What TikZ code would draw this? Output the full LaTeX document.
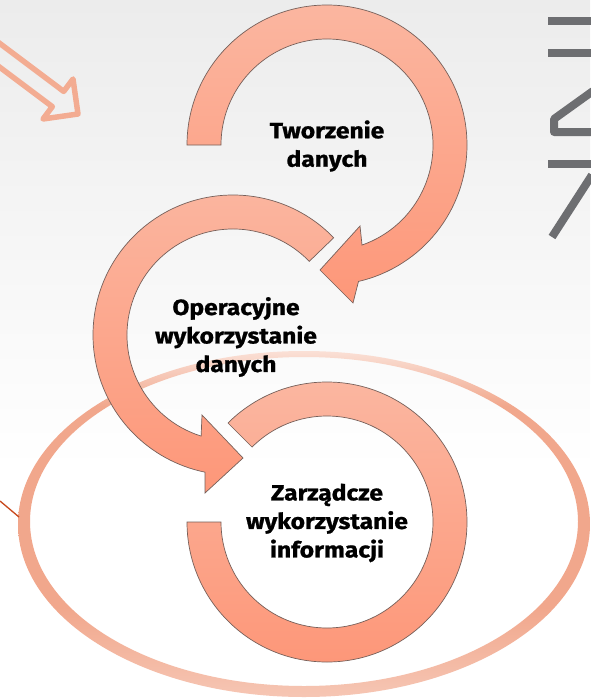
\documentclass[tikz,border=0pt]{standalone}
\usepackage{fontspec}
\setmainfont{Fira Sans}[BoldFeatures={FakeStretch=1.12, FakeBold=1}]

% palette
\definecolor{ringtop}{RGB}{251,182,160}
\definecolor{ringbot}{RGB}{253,151,121}
\definecolor{ringedge}{RGB}{118,96,90}
\definecolor{hollowarrow}{RGB}{243,172,146}
\definecolor{inkgray}{RGB}{109,110,113}
\definecolor{pointer}{RGB}{200,72,28}
\definecolor{ellbot}{RGB}{246,198,180}
\definecolor{ellmid}{RGB}{241,167,140}
\definecolor{elltop}{RGB}{250,224,214}
\definecolor{bgtop}{RGB}{236,236,236}

% band of the large ellipse: pale at the very top and bottom
\pgfdeclareverticalshading{ellband}{100bp}{%
  color(0bp)=(ellbot); color(25bp)=(ellbot); color(38bp)=(ellmid);
  color(67bp)=(ellmid); color(75bp)=(elltop); color(100bp)=(elltop)}

\tikzset{
  ringband/.style={top color=ringtop, bottom color=ringbot, draw=ringedge,
    line width=0.7pt, line join=miter},
  cyclelabel/.style={align=center, text=black,
    font=\bfseries\fontsize{22}{28.5}\selectfont, inner sep=0pt},
  hollow/.style={draw=hollowarrow, line width=5.5pt, line join=round},
  inkstroke/.style={draw=inkgray, line width=8pt, line cap=butt, line join=round},
  pointerline/.style={draw=pointer, line width=1.3pt}
}

\begin{document}
\begin{tikzpicture}[x=1pt, y=-1pt]
\useasboundingbox (0,0) rectangle (590,699);

% background
\fill[white] (0,0) rectangle (590,699);
\shade[top color=bgtop, bottom color=white] (0,0) rectangle (590,470);

% hollow block arrow entering from the top-left corner
\draw[hollow] (-6,39.1) -- (63.7,91.4) -- (73,79) -- (78,114)
  -- (43,119) -- (52.3,106.6) -- (-6,62.9);

% letters cut by the right edge
\draw[inkstroke] (548,21) -- (592,21);
\draw[inkstroke] (548,52.5) -- (592,52.5);
\draw[inkstroke] (593,91) -- (554,119) -- (554,132) -- (593,132);
\draw[inkstroke] (548,164) -- (592,164);
\draw[inkstroke] (592,175) -- (552,237);

% large ellipse around the bottom cycle
\shade[shading=ellband, even odd rule]
  (304,524) ellipse [x radius=286, y radius=173]
  (304,521.5) ellipse [x radius=274, y radius=164.5];

% thin pointer touching the ellipse
\coordinate (pstart) at (0,501);
\coordinate (pend) at (19,517);
\draw[pointerline] (pstart) -- (pend);

% ring 1: Tworzenie danych
\begin{scope}[shift={(327,145)}]
  \path[ringband] (180:140) arc[start angle=180, end angle=437, radius=140]
    -- (26,158) -- (-7,125) -- (33,81)
    -- (430.7:106) arc[start angle=430.7, end angle=180, radius=106] -- cycle;
\end{scope}

% ring 2: Operacyjne wykorzystanie danych
\begin{scope}[shift={(233,335)}]
  \path[ringband] (316:140) arc[start angle=316, end angle=101.5, radius=140]
    -- (-28,158) -- (10,123) -- (-31,80)
    -- (107.5:106) arc[start angle=107.5, end angle=316, radius=106] -- cycle;
\end{scope}

% ring 3: Zarzadcze wykorzystanie informacji
\begin{scope}[shift={(327,522)}]
  \path[ringband] (180:140) arc[start angle=180, end angle=-135, radius=140]
    -- (-135:106) arc[start angle=-135, end angle=180, radius=106] -- cycle;
\end{scope}

% labels
\node[cyclelabel] (create) at (327,146) {Tworzenie\\danych};
\node[cyclelabel] (operate) at (236,337) {Operacyjne\\wykorzystanie\\danych};
\node[cyclelabel] (manage) at (327,523) {Zarządcze\\wykorzystanie\\informacji};
\end{tikzpicture}
\end{document}
